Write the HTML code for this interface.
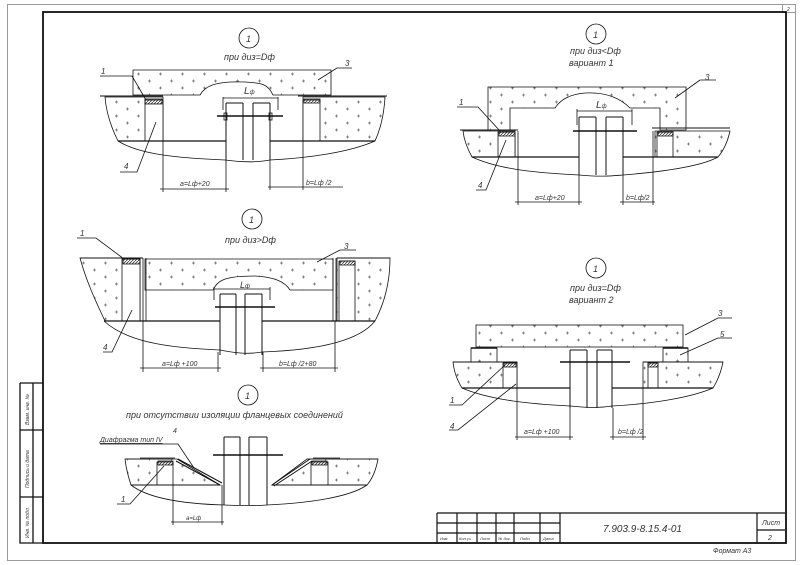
<!DOCTYPE html>
<html><head><meta charset="utf-8"><style>
html,body{margin:0;padding:0;background:#fff;width:801px;height:565px;overflow:hidden}
svg text{font-family:"Liberation Sans",sans-serif;font-style:italic;fill:#333}
</style></head><body>
<svg width="801" height="565" viewBox="0 0 801 565" xmlns="http://www.w3.org/2000/svg">
<defs>
<pattern id="p" width="22" height="14" patternUnits="userSpaceOnUse">
<path d="M5 4h3M6.5 2.5v3M16 11h3M17.5 9.5v3" stroke="#666" stroke-width="0.7"/>
</pattern>
<pattern id="h" width="3" height="3" patternUnits="userSpaceOnUse">
<path d="M0 3L3 0" stroke="#333" stroke-width="0.8"/>
</pattern>
</defs>
<g fill="none" stroke="#999" stroke-width="1">
<rect x="7.5" y="4.5" width="788" height="556"/>
<rect x="782.5" y="4.5" width="13" height="8"/>
</g>
<text x="787" y="11" font-size="5">2</text>
<g fill="none" stroke="#111">
<rect x="43" y="12" width="743" height="531" stroke-width="1.8"/>
<path d="M20 383H43M20 383V543H43M33 383V543M20 430H43M20 497H43" stroke-width="1.3"/>
<path d="M437 513H785M437 513V543M437 523H560M437 533H560M457 513V543M477 513V543M496 513V543M514 513V543M540 513V543M560 513V543M757 513V543M757 530H785" stroke-width="1.2"/>
</g>
<g font-size="5">
<text transform="translate(29,425) rotate(-90)">Взам. инв. №</text>
<text transform="translate(29,488) rotate(-90)">Подпись и дата</text>
<text transform="translate(29,538) rotate(-90)">Инв. № подл.</text>
<text x="440" y="540" font-size="4">Изм.</text><text x="459" y="540" font-size="4">Кол.уч</text>
<text x="480" y="540" font-size="4">Лист</text><text x="498" y="540" font-size="4">№ док.</text>
<text x="520" y="540" font-size="4">Подп.</text><text x="543" y="540" font-size="4">Дата</text>
</g>
<text x="603" y="532" font-size="10">7.903.9-8.15.4-01</text>
<text x="762" y="525" font-size="7">Лист</text>
<text x="768" y="540" font-size="7">2</text>
<text x="713" y="553" font-size="7">Формат А3</text>

<!-- ============ Drawing 1 ============ -->
<g stroke="#111" stroke-width="0.8" fill="none">
<circle cx="249" cy="38" r="10"/>
<path d="M133 70H331V95H273C268 84 262 83 245 82C215 81 205 86 200 95H133Z" fill="url(#p)"/>
<path d="M105 97H163V141H118C110 125 106 110 105 97Z" fill="url(#p)"/>
<path d="M303 97H385C384 115 380 130 375 141H303Z" fill="url(#p)"/>
<path d="M100 96H163M298 96H387" stroke-width="1"/>
<rect x="145" y="100" width="18" height="41" fill="#fff"/>
<rect x="145" y="99" width="17" height="5" fill="url(#h)"/>
<rect x="303" y="100" width="17" height="41" fill="#fff"/>
<rect x="304" y="99" width="16" height="4" fill="url(#h)"/>
<path d="M118 141H226M270 141H375" stroke-width="1.2"/>
<path d="M118 141C140 155 180 158 225 160C240 162 255 163 270 160C310 158 350 152 375 141"/>
<path d="M226 103V160M270 103V160M243 103V160M253 103V160M226 103H243M253 103H270" stroke-width="1"/>
<path d="M217 116H283" stroke-width="1.5"/>
<rect x="224" y="113" width="3" height="7"/><rect x="269" y="113" width="3" height="7"/>
<path d="M223 97V110M278 97V110M223 98H278"/>
<path d="M163 141V192M226 160V192M160 189H229M270 160V190M303 141V190M268 187H343"/>
<path d="M100 76H132L146 100M337 68H352M337 68L318 80M120 172H137L156 122"/>
</g>
<g font-size="9"><text x="246" y="42">1</text><text x="224" y="60">при диз=Dф</text>
<text x="244" y="94" font-size="10">L<tspan font-size="6">ф</tspan></text>
<text x="180" y="186" font-size="7">a=Lф+20</text><text x="306" y="185" font-size="7">b=Lф /2</text>
<text x="101" y="74" font-size="8">1</text><text x="345" y="66" font-size="8">3</text><text x="124" y="169" font-size="8">4</text></g>

<!-- ============ Drawing 2 ============ -->
<g stroke="#111" stroke-width="0.8" fill="none">
<circle cx="596" cy="34" r="10"/>
<path d="M488 87H686V130H660V108H630C620 98 605 92 585 93C570 94 560 100 555 108H510V130H488Z" fill="url(#p)"/>
<path d="M463 131H515V157H472C467 148 464 140 463 131Z" fill="url(#p)"/>
<path d="M655 131H730C728 140 724 150 718 157H655Z" fill="url(#p)"/>
<path d="M460 130H518M652 128H730" stroke-width="1.1"/>
<rect x="498" y="132" width="17" height="25" fill="#fff"/>
<rect x="499" y="132" width="16" height="4" fill="url(#h)"/>
<rect x="657" y="132" width="16" height="25" fill="#fff"/>
<rect x="658" y="132" width="15" height="4" fill="url(#h)"/>
<path d="M472 157H579M623 157H718" stroke-width="1.2"/>
<path d="M472 157C500 170 540 173 579 175C600 177 610 176 623 175C660 172 700 167 718 157"/>
<path d="M579 117V175M596 117V175M606 117V175M623 117V175M579 117H596M606 117H623" stroke-width="1"/>
<path d="M573 131H637" stroke-width="1.5"/>
<path d="M577 109V125M632 109V125M577 111H632"/>
<path d="M518 131V205M579 175V205M515 202H582M623 175V205M653 131V205M620 202H655"/>
<path d="M457 107H478L500 131M700 80H716M700 80L675 98M476 190H486L506 140"/>
</g>
<g font-size="9"><text x="593" y="38">1</text><text x="570" y="54">при диз&lt;Dф</text><text x="569" y="66">вариант 1</text>
<text x="596" y="108" font-size="10">L<tspan font-size="6">ф</tspan></text>
<text x="535" y="200" font-size="7">a=Lф+20</text><text x="626" y="200" font-size="7">b=Lф/2</text>
<text x="459" y="105" font-size="8">1</text><text x="705" y="80" font-size="8">3</text><text x="478" y="188" font-size="8">4</text></g>

<!-- ============ Drawing 3 ============ -->
<g stroke="#111" stroke-width="0.8" fill="none">
<circle cx="252" cy="219" r="10"/>
<path d="M145 259H333V290H290C285 282 275 277 255 276C225 276 218 280 213 290H145Z" fill="url(#p)"/>
<path d="M80 258H140V321H105C95 300 86 280 80 258Z" fill="url(#p)"/>
<path d="M337 258H390C390 280 385 302 375 321H337Z" fill="url(#p)"/>
<path d="M80 258H143M337 258H390" stroke-width="1.1"/>
<path d="M143 258V321M146 258V321M333 258V321M336 258V321"/>
<rect x="122" y="259" width="18" height="62" fill="#fff"/>
<rect x="123" y="259" width="17" height="5" fill="url(#h)"/>
<rect x="339" y="261" width="16" height="60" fill="#fff"/>
<rect x="340" y="261" width="15" height="4" fill="url(#h)"/>
<path d="M104 321H220M262 321H375" stroke-width="1.2"/>
<path d="M104 321C130 345 180 348 220 350C240 354 250 354 262 352C320 350 360 340 375 321"/>
<path d="M220 294V355M236 294V355M245 294V355M262 294V355M220 294H236M245 294H262" stroke-width="1"/>
<path d="M215 307H275" stroke-width="1.5"/>
<path d="M214 287V300M270 287V300M214 289H270"/>
<path d="M143 321V372M218 352V372M140 368H221M263 352V372M335 321V372M260 368H338"/>
<path d="M77 238H96L124 259M340 250H356M340 250L317 262M103 352H112L132 310"/>
</g>
<g font-size="9"><text x="249" y="223">1</text><text x="225" y="243">при диз&gt;Dф</text>
<text x="240" y="288" font-size="9">L<tspan font-size="6">ф</tspan></text>
<text x="162" y="366" font-size="7">a=Lф +100</text><text x="279" y="366" font-size="7">b=Lф /2+80</text>
<text x="80" y="236" font-size="8">1</text><text x="344" y="249" font-size="8">3</text><text x="103" y="350" font-size="8">4</text></g>

<!-- ============ Drawing 4 ============ -->
<g stroke="#111" stroke-width="0.8" fill="none">
<circle cx="596" cy="268" r="10"/>
<rect x="476" y="325" width="207" height="22" fill="url(#p)"/>
<rect x="471" y="348" width="26" height="14" fill="url(#p)"/>
<rect x="663" y="348" width="25" height="14" fill="url(#p)"/>
<path d="M471 348H497M663 348H688" stroke-width="1.6"/>
<path d="M453 362H517V388H462C457 380 454 372 453 362Z" fill="url(#p)"/>
<path d="M643 362H723C721 372 718 380 713 388H643Z" fill="url(#p)"/>
<path d="M453 362H517M643 362H723" stroke-width="1.1"/>
<rect x="503" y="363" width="14" height="25" fill="#fff"/>
<rect x="504" y="363" width="12" height="4" fill="url(#h)"/>
<rect x="648" y="363" width="10" height="25" fill="#fff"/>
<rect x="648" y="363" width="10" height="4" fill="url(#h)"/>
<path d="M462 388H570M612 388H713" stroke-width="1.2"/>
<path d="M462 388C490 400 530 404 570 406C590 408 600 408 612 406C650 404 690 398 713 388"/>
<path d="M570 350V408M587 350V408M597 350V408M612 350V408M570 350H587M597 350H612" stroke-width="1"/>
<path d="M560 362H630" stroke-width="1.5"/>
<path d="M517 388V440M570 408V440M515 437H573M613 408V440M643 388V440M610 437H646"/>
<path d="M449 405H462L505 365M449 430H458L516 384M718 318H732M718 318L685 335M718 338H732M718 338L680 355"/>
</g>
<g font-size="9"><text x="593" y="272">1</text><text x="570" y="291">при диз=Dф</text><text x="569" y="303">вариант 2</text>
<text x="524" y="434" font-size="7">a=Lф +100</text><text x="618" y="434" font-size="7">b=Lф /2</text>
<text x="450" y="403" font-size="8">1</text><text x="718" y="316" font-size="8">3</text><text x="720" y="337" font-size="8">5</text><text x="450" y="429" font-size="8">4</text></g>

<!-- ============ Drawing 5 ============ -->
<g stroke="#111" stroke-width="0.8" fill="none">
<circle cx="248" cy="395" r="10"/>
<path d="M125 459H177L220 485H131C128 476 126 468 125 459Z" fill="url(#p)"/>
<path d="M307 459H378C376 470 373 478 367 485H272Z" fill="url(#p)"/>
<path d="M125 459H173M307 459H378M140 458H175M313 458H340"/>
<path d="M176 461L220 485M178 459L222 483M272 485L310 459M274 486L312 461" stroke-width="1"/>
<rect x="157" y="462" width="16" height="23" fill="#fff"/>
<rect x="158" y="461" width="15" height="4" fill="url(#h)"/>
<rect x="311" y="462" width="17" height="23" fill="#fff"/>
<rect x="312" y="461" width="15" height="4" fill="url(#h)"/>
<path d="M131 485H220M272 485H367" stroke-width="1.1"/>
<path d="M131 485C150 500 190 504 224 505C245 506 255 506 267 505C310 503 350 497 367 485"/>
<path d="M224 437V505M240 437V505M249 437V505M267 437V505M224 437H240M249 437H267" stroke-width="1"/>
<path d="M213 455H283" stroke-width="1.5"/>
<path d="M173 485V525M222 485V525M171 522H224"/>
<path d="M100 444H178L194 468M117 504H130L164 466"/>
</g>
<g font-size="9"><text x="245" y="399">1</text><text x="126" y="418">при отсутствии изоляции фланцевых соединений</text>
<text x="100" y="442" font-size="7" text-decoration="underline">Диафрагма тип IV</text>
<text x="173" y="433" font-size="7">4</text><text x="121" y="502" font-size="8">1</text>
<text x="186" y="520" font-size="6">a=Lф</text></g>
</svg>
</body></html>
